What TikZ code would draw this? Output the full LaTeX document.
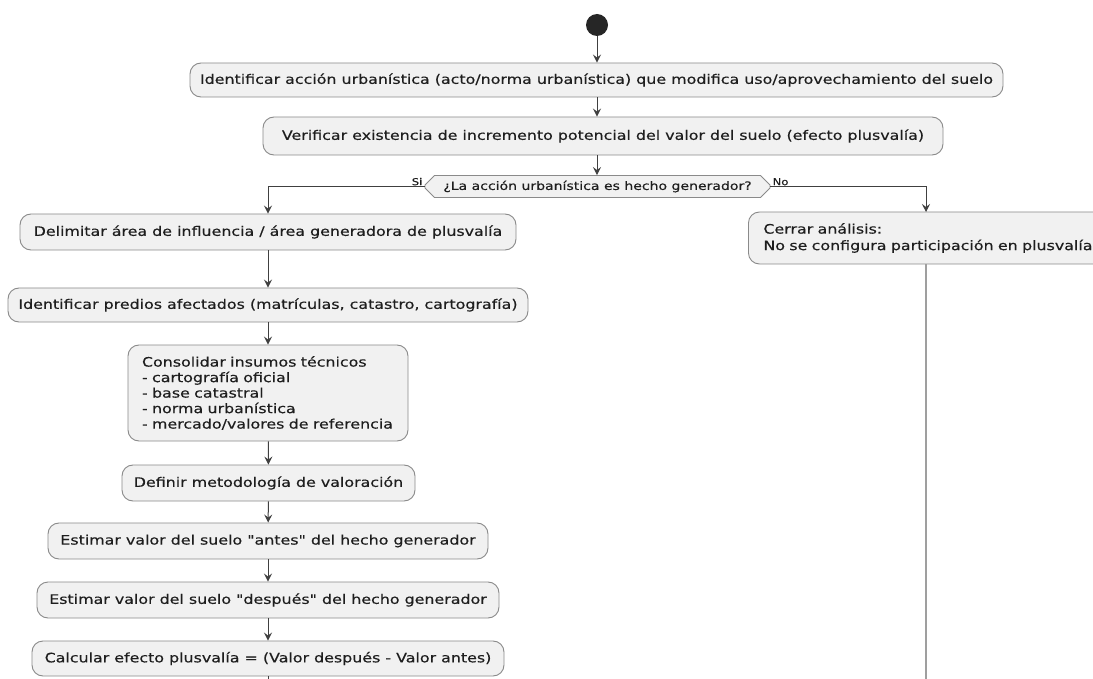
\documentclass[tikz,border=0pt]{standalone}
\usepackage{fontspec}
\setmainfont{DejaVu Sans}[FakeStretch=1.22,FakeBold=0.35,Ligatures=TeXOff]
\usetikzlibrary{arrows.meta,shapes.misc,calc}
\definecolor{boxfill}{HTML}{F1F1F1}
\definecolor{boxline}{HTML}{8A8A8A}
\definecolor{txt}{HTML}{1E1E1E}
\definecolor{conn}{HTML}{404040}
\tikzset{
  act/.style={draw=boxline, fill=boxfill, rounded corners=11pt, line width=0.9pt,
    text=txt, font=\fontsize{13}{15}\selectfont, inner sep=0pt},
  flow/.style={draw=conn, line width=1pt, -{Stealth[length=8pt,width=8pt,inset=3pt]}},
  plain/.style={draw=conn, line width=1pt},
  lbl/.style={text=txt, font=\fontsize{9.5}{11}\selectfont, inner sep=1pt}
}
\begin{document}
\begin{tikzpicture}[x=1pt,y=-1pt]
\useasboundingbox (0,0) rectangle (1093,679);
\fill[white] (0,0) rectangle (1093,679);
% start
\node[circle, fill=black!85, minimum size=22pt, inner sep=0pt] (start) at (597,25) {};
% main column
\node[act, minimum width=813pt, minimum height=34pt] (b1) at (596.5,80) {Identificar acción urbanística (acto/norma urbanística) que modifica uso/aprovechamiento del suelo};
\node[act, minimum width=680pt, minimum height=38pt] (b2) at (603,136) {Verificar existencia de incremento potencial del valor del suelo (efecto plusvalía)};
\node[draw=boxline, fill=boxfill, line width=0.9pt, chamfered rectangle, chamfered rectangle xsep=11pt,
  chamfered rectangle angle=45, minimum width=345pt, minimum height=22pt, inner sep=0pt, inner xsep=0pt,
  text=txt, font=\fontsize{11.5}{13}\selectfont] (dec) at (597.5,186.5) {¿La acción urbanística es hecho generador?};
% left branch
\node[act, minimum width=496pt, minimum height=36pt] (b3) at (268,232) {Delimitar área de influencia / área generadora de plusvalía};
\node[act, minimum width=520pt, minimum height=34pt] (b4) at (268,305) {Identificar predios afectados (matrículas, catastro, cartografía)};
\node[act, minimum width=280pt, minimum height=96pt, align=left, text width=252pt,
  font=\fontsize{13}{15.5}\selectfont] (b5) at (268,393) {Consolidar insumos técnicos\\- cartografía oficial\\- base catastral\\- norma urbanística\\- mercado/valores de referencia};
\node[act, minimum width=293pt, minimum height=36pt] (b6) at (268.5,483) {Definir metodología de valoración};
\node[act, minimum width=440pt, minimum height=36pt] (b7) at (268,541) {Estimar valor del suelo "antes" del hecho generador};
\node[act, minimum width=462pt, minimum height=36pt] (b8) at (268,600) {Estimar valor del suelo "después" del hecho generador};
\node[act, minimum width=472pt, minimum height=35pt] (b9) at (268,658.5) {Calcular efecto plusvalía = (Valor después - Valor antes)};
\coordinate (b9end) at (268,690);
% right branch
\node[act, anchor=west, minimum width=370pt, minimum height=52pt, align=left, text width=340pt,
  font=\fontsize{13}{16.5}\selectfont] (b10) at (748,238) {Cerrar análisis:\\No se configura participación en plusvalía};
\coordinate (b10end) at (926,690);
\coordinate (b10in) at (926,212);
% connectors
\draw[flow] (start) -- (b1.north -| start);
\draw[flow] (b1.south -| start) -- (b2.north -| start);
\draw[flow] (b2.south -| start) -- (dec.north -| start);
\draw[flow] (dec.west) -| (b3.north);
\draw[flow] (dec.east) -| (b10in);
\node[lbl, anchor=south east] at ($(dec.west)+(-1,0)$) {Si};
\node[lbl, anchor=south west] at ($(dec.east)+(1,0)$) {No};
\draw[flow] (b3) -- (b4);
\draw[flow] (b4) -- (b5);
\draw[flow] (b5) -- (b6);
\draw[flow] (b6) -- (b7);
\draw[flow] (b7) -- (b8);
\draw[flow] (b8) -- (b9);
\draw[plain] (b9) -- (b9end);
\draw[draw=gray!75, line width=2pt] (b10.south -| b10end) -- (b10end);
\end{tikzpicture}
\end{document}
